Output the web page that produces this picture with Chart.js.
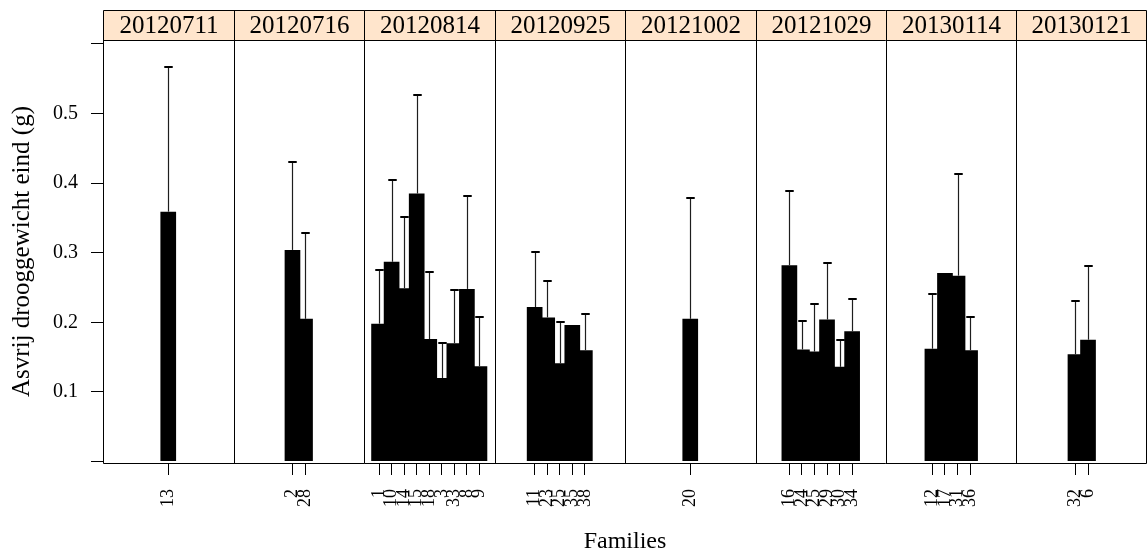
<!DOCTYPE html>
<html>
<head>
<meta charset="utf-8">
<script src="https://cdn.jsdelivr.net/npm/chart.js@4"></script>
<style>
  html, body { margin: 0; padding: 0; background: #fff; }
</style>
</head>
<body>
<canvas id="chart" width="1147" height="556"></canvas>
<script>
// Sowing dates (one panel each) and the families measured on each date
const panels = ['20120711', '20120716', '20120814', '20120925', '20121002', '20121029', '20130114', '20130121'];
const families = [
  ['13'],
  ['2', '28'],
  ['1', '10', '14', '15', '18', '3', '33', '8', '9'],
  ['11', '23', '25', '35', '38'],
  ['20'],
  ['16', '24', '25', '29', '30', '34'],
  ['12', '17', '31', '36'],
  ['32', '6']
];
// Mean ash-free dry weight at the end (g)
const means = [
  [0.359],
  [0.304, 0.205],
  [0.198, 0.287, 0.249, 0.385, 0.176, 0.120, 0.170, 0.248, 0.137],
  [0.222, 0.207, 0.141, 0.196, 0.160],
  [0.205],
  [0.282, 0.161, 0.158, 0.204, 0.136, 0.187],
  [0.162, 0.271, 0.267, 0.160],
  [0.154, 0.175]
];
// Upper error (g); null where only one plant was measured
const errors = [
  [0.208],
  [0.127, 0.123],
  [0.077, 0.117, 0.102, 0.141, 0.096, 0.050, 0.077, 0.133, 0.071],
  [0.079, 0.053, 0.060, null, 0.052],
  [0.173],
  [0.106, 0.041, 0.068, 0.081, 0.039, 0.046],
  [0.079, null, 0.146, 0.048],
  [0.077, 0.106]
];
const yTicks = [0, 0.1, 0.2, 0.3, 0.4, 0.5, 0.6];
const yTickLabels = ['', '0.1', '0.2', '0.3', '0.4', '0.5', ''];

// Each panel spans the same width on the x axis (sliced scales)
const PANEL_SPAN = 10.4;
const SERIF = '"Liberation Serif", "Times New Roman", serif';

const points = [];
const pointLabels = [];
const pointErrors = [];
panels.forEach((p, k) => {
  const n = families[k].length;
  families[k].forEach((fam, i) => {
    points.push({ x: k * PANEL_SPAN + PANEL_SPAN / 2 + i - (n - 1) / 2, y: means[k][i] });
    pointLabels.push(fam);
    pointErrors.push(errors[k][i]);
  });
});

const errorBars = {
  id: 'errorBars',
  afterDatasetsDraw(chart) {
    const meta = chart.getDatasetMeta(0);
    const yScale = chart.scales.y;
    const ctx = chart.ctx;
    ctx.save();
    meta.data.forEach((bar, j) => {
      const err = pointErrors[j];
      if (err == null) return;
      const x = Math.round(bar.x) + 0.5;
      const yTop = yScale.getPixelForValue(points[j].y + err);
      const cap = bar.width * 0.27;
      ctx.strokeStyle = '#1e1e1e';
      ctx.lineWidth = 1.2;
      ctx.beginPath();
      ctx.moveTo(x, bar.y);
      ctx.lineTo(x, yTop);
      ctx.stroke();
      ctx.strokeStyle = '#000';
      ctx.lineWidth = 2;
      ctx.beginPath();
      ctx.moveTo(x - cap, Math.round(yTop));
      ctx.lineTo(x + cap, Math.round(yTop));
      ctx.stroke();
    });
    ctx.restore();
  }
};

const panelFrames = {
  id: 'panelFrames',
  afterDraw(chart) {
    const { ctx, chartArea } = chart;
    const xScale = chart.scales.x;
    const stripTop = chartArea.top - 30;
    const edges = [];
    for (let k = 0; k <= panels.length; k++) {
      let px = Math.round(xScale.getPixelForValue(k * PANEL_SPAN)) + 0.5;
      if (k === panels.length) px = Math.min(px, chart.width - 0.5);
      edges.push(px);
    }
    ctx.save();
    // strips with the date of each panel
    panels.forEach((label, k) => {
      ctx.fillStyle = '#ffe5cc';
      ctx.fillRect(edges[k], stripTop, edges[k + 1] - edges[k], 30);
      ctx.fillStyle = '#000';
      ctx.font = '25px ' + SERIF;
      ctx.textAlign = 'center';
      ctx.textBaseline = 'middle';
      ctx.fillText(label, (edges[k] + edges[k + 1]) / 2, stripTop + 16);
    });
    ctx.strokeStyle = '#000';
    ctx.lineWidth = 1;
    // outer frame and panel separators
    const top = stripTop + 0.5;
    const bottom = Math.round(chartArea.bottom) + 0.5;
    const stripBottom = Math.round(chartArea.top) + 0.5;
    ctx.beginPath();
    ctx.moveTo(edges[0], top);
    ctx.lineTo(edges[edges.length - 1], top);
    ctx.moveTo(edges[0], stripBottom);
    ctx.lineTo(edges[edges.length - 1], stripBottom);
    ctx.moveTo(edges[0], bottom);
    ctx.lineTo(edges[edges.length - 1], bottom);
    edges.forEach(px => {
      ctx.moveTo(px, top);
      ctx.lineTo(px, bottom);
    });
    ctx.stroke();
    ctx.restore();
  }
};

new Chart(document.getElementById('chart'), {
  type: 'bar',
  data: {
    datasets: [{
      data: points,
      backgroundColor: '#000',
      borderWidth: 0,
      categoryPercentage: 1,
      barPercentage: 1.25,
      grouped: false
    }]
  },
  options: {
    responsive: false,
    animation: false,
    devicePixelRatio: 1,
    layout: { padding: { top: 40, left: 0, right: 0, bottom: 0 } },
    plugins: { legend: { display: false }, tooltip: { enabled: false } },
    scales: {
      x: {
        type: 'linear',
        offset: false,
        min: 0,
        max: panels.length * PANEL_SPAN,
        afterBuildTicks(scale) {
          scale.ticks = points.map(p => ({ value: p.x }));
        },
        afterFit(scale) {
          scale.height = 93;
          scale.paddingLeft = 0;
          scale.paddingRight = 0;
        },
        ticks: {
          autoSkip: false,
          minRotation: 90,
          maxRotation: 90,
          padding: 14,
          color: '#000',
          font: { family: SERIF, size: 18 },
          callback: (value, index) => pointLabels[index]
        },
        grid: { offset: false, drawOnChartArea: false, drawTicks: true, tickLength: 12, color: '#000' },
        border: { display: false },
        title: {
          display: true,
          text: 'Families',
          color: '#000',
          font: { family: SERIF, size: 24 },
          padding: { top: 0, bottom: 0 }
        }
      },
      y: {
        type: 'linear',
        min: -0.0022,
        max: 0.6057,
        afterBuildTicks(scale) {
          scale.ticks = yTicks.map(v => ({ value: v }));
        },
        afterFit(scale) {
          scale.width = 103;
          scale.paddingTop = 0;
          scale.paddingBottom = 0;
        },
        ticks: {
          padding: 13,
          color: '#000',
          font: { family: SERIF, size: 20 },
          callback: (value, index) => yTickLabels[index]
        },
        grid: { drawOnChartArea: false, drawTicks: true, tickLength: 12, color: '#000' },
        border: { display: false },
        title: {
          display: true,
          text: 'Asvrij drooggewicht eind (g)',
          color: '#000',
          font: { family: SERIF, size: 25 },
          padding: { top: 7, bottom: 0 }
        }
      }
    }
  },
  plugins: [errorBars, panelFrames]
});
</script>
</body>
</html>
